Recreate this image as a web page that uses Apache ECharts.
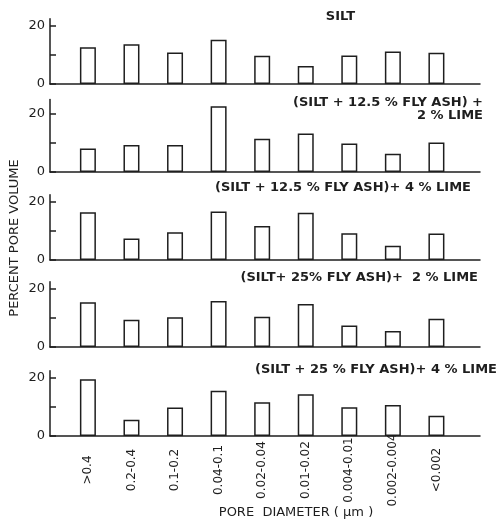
<!DOCTYPE html>
<html><head><meta charset="utf-8">
<script src="https://cdn.jsdelivr.net/npm/echarts@6/dist/echarts.min.js"></script>
<style>html,body{margin:0;padding:0;background:#fff}#c{width:501px;height:523px}</style>
</head><body><div id="c"></div>
<script>
const categories = [">0.4","0.2-0.4","0.1-0.2","0.04-0.1","0.02-0.04","0.01-0.02","0.004-0.01","0.002-0.004","<0.002"];
const silt        = [12.7, 13.7, 10.9, 15.3, 9.7, 6.2, 9.8, 11.2, 10.8];
const fa125lime2  = [8.1, 9.3, 9.3, 22.7, 11.5, 13.3, 9.8, 6.3, 10.2];
const fa125lime4  = [16.5, 7.4, 9.6, 16.7, 11.7, 16.3, 9.2, 4.9, 9.1];
const fa25lime2   = [15.4, 9.4, 10.3, 15.9, 10.4, 14.8, 7.4, 5.5, 9.7];
const fa25lime4   = [19.6, 5.6, 9.8, 15.6, 11.6, 14.4, 9.9, 10.7, 7.0];
const panelTitles = [["SILT"],["(SILT + 12.5 % FLY ASH) +","2 % LIME"],["(SILT + 12.5 % FLY ASH)+ 4 % LIME"],["(SILT+ 25% FLY ASH)+  2 % LIME"],["(SILT + 25 % FLY ASH)+ 4 % LIME"]];
const yTicks = [0, 10, 20];
const yTickLabels = [0, 20];
const yLabel = "PERCENT PORE VOLUME";
const xLabel = "PORE  DIAMETER ( µm )";

const series = [silt, fa125lime2, fa125lime4, fa25lime2, fa25lime4];
const zeros = [84, 172, 260, 347, 436];
const maxes = [22.5, 25, 22.5, 22.5, 22.5];
const pxPerUnit = 2.9;
const ink = '#1e1e1e';
const font = 'DejaVu Sans';

const grids = [], xAxes = [], yAxes = [], ser = [];
series.forEach((vals, i) => {
  const h = maxes[i] * pxPerUnit;
  grids.push({left: 50, width: 430, top: zeros[i] - h, height: h});
  const last = i === series.length - 1;
  xAxes.push({
    type: 'value', gridIndex: i, min: -0.87, max: 9.0,
    splitLine: {show: false},
    axisLine: {show: true, onZero: false, lineStyle: {color: ink, width: 1.5}},
    axisTick: {show: false},
    axisLabel: last ? {
      show: true, customValues: categories.map((c, k) => k),
      formatter: v => categories[Math.round(v)],
      rotate: 90, align: 'center', verticalAlign: 'middle', margin: 34,
      color: ink, fontFamily: font, fontSize: 12
    } : {show: false}
  });
  yAxes.push({
    type: 'value', gridIndex: i, min: 0, max: maxes[i],
    splitLine: {show: false},
    axisLine: {show: true, onZero: false, lineStyle: {color: ink, width: 1.5}},
    axisTick: {show: true, inside: true, length: 6, customValues: yTicks, lineStyle: {color: ink, width: 1.5}},
    axisLabel: {show: true, customValues: yTickLabels, color: ink, fontFamily: font, fontSize: 13, margin: 5}
  });
  ser.push({
    type: 'bar', xAxisIndex: i, yAxisIndex: i, barWidth: 16,
    data: vals.map((v, k) => [k, v]),
    itemStyle: {color: '#fff', borderColor: ink, borderWidth: 1.5},
    silent: true
  });
});

const titleRight = [355, 483, 471, 478, 497];
const titleY = [[17], [103, 116], [188], [278], [370]];
const graphics = [];
panelTitles.forEach((lines, i) => {
  lines.forEach((t, j) => {
    graphics.push({type: 'text', x: titleRight[i], y: titleY[i][j],
      style: {text: t, align: 'right', verticalAlign: 'middle', fill: ink,
              font: 'bold 13px "' + font + '"'}});
  });
});
graphics.push({type: 'text', x: 15, y: 238, rotation: Math.PI / 2,
  style: {text: yLabel, align: 'center', verticalAlign: 'middle', fill: ink, font: '13px "' + font + '"'}});
graphics.push({type: 'text', x: 296, y: 513,
  style: {text: xLabel, align: 'center', verticalAlign: 'middle', fill: ink, font: '13px "' + font + '"'}});

const chart = echarts.init(document.getElementById('c'), null, {renderer: 'canvas'});
chart.setOption({
  backgroundColor: '#fff',
  animation: false,
  grid: grids, xAxis: xAxes, yAxis: yAxes, series: ser,
  graphic: graphics
});
</script></body></html>
